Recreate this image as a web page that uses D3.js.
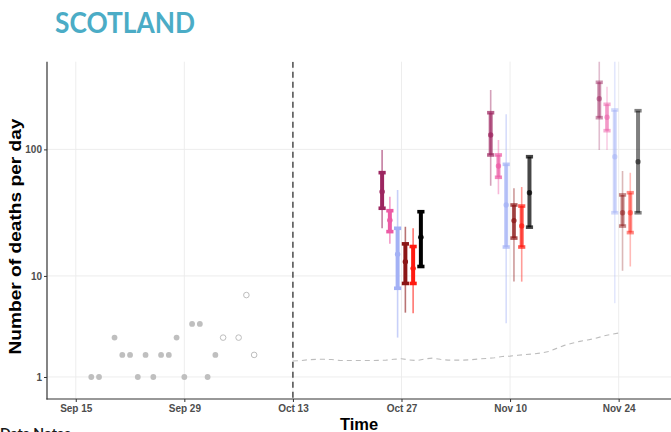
<!DOCTYPE html>
<html>
<head>
<meta charset="utf-8">
<script src="https://cdn.jsdelivr.net/npm/d3@7"></script>
<style>
  html, body { margin: 0; padding: 0; background: #fff; }
  svg { display: block; }
</style>
</head>
<body>
<svg id="chart" width="671" height="432"></svg>
<script>
// ---- Data -------------------------------------------------------------
// Reported daily deaths (filled points) and recent incomplete reports (open points)
const reportedDates  = ["2020-09-17","2020-09-18","2020-09-20","2020-09-21","2020-09-22","2020-09-23",
                        "2020-09-24","2020-09-25","2020-09-26","2020-09-27","2020-09-28","2020-09-29",
                        "2020-09-30","2020-10-01","2020-10-02","2020-10-03"];
const reportedDeaths = [1, 1, 3, 2, 2, 1, 2, 1, 2, 2, 3, 1, 4, 4, 1, 2];
const provisionalDates  = ["2020-10-04","2020-10-06","2020-10-07","2020-10-08"];
const provisionalDeaths = [3, 3, 7, 2];

// Forecast horizons and the six models' quantiles (rows = model, columns = horizon)
const forecastDates = ["2020-10-27","2020-11-10","2020-11-24"];
const lower95 = [
  [23.9, 51.8, 98.9],
  [18.0, 44.3, 98.9],
  [3.0, 4.05, 6.0],
  [5.0, 9.0, 11.0],
  [4.95, 9.0, 11.9],
  [null, null, null]
];
const lower50 = [
  [34.4, 90.4, 177.7],
  [22.5, 60.3, 140.4],
  [7.95, 17.0, 31.7],
  [8.7, 20.0, 24.9],
  [8.7, 17.0, 22.1],
  [11.9, 24.4, 31.7]
];
const medians = [
  [46.5, 129.8, 250.6],
  [27.7, 74.0, 178.9],
  [14.9, 36.5, 87.6],
  [13.0, 27.5, 31.7],
  [11.5, 24.9, 31.7],
  [20.3, 45.6, 80.0]
];
const upper50 = [
  [65.6, 194.4, 337.3],
  [32.9, 90.4, 226.4],
  [23.9, 76.3, 204.2],
  [18.0, 36.5, 43.8],
  [17.15, 35.8, 45.6],
  [32.3, 87.6, 201.6]
];
const upper95 = [
  [99, 293, 600],
  [42.4, 118.6, 311.4],
  [47.9, 188.9, 600],
  [24.6, 49.4, 67.6],
  [23.9, 50.5, 65.6],
  [null, null, null]
];

// Baseline curve from Oct 13 onwards (one value per day)
const baselineStart = "2020-10-13";
const baselineValues = [1.70, 1.72, 1.76, 1.78, 1.78, 1.77, 1.73, 1.72, 1.72, 1.72, 1.72, 1.73,
                        1.74, 1.78, 1.81, 1.75, 1.72, 1.80, 1.84, 1.78, 1.74, 1.74, 1.74, 1.76,
                        1.80, 1.82, 1.86, 1.92, 1.94, 1.98, 2.02, 2.05, 2.10, 2.18, 2.35, 2.52,
                        2.65, 2.76, 2.85, 2.95, 3.10, 3.22, 3.31];

const forecastOrigin = "2020-10-13";
const xTickDates = ["2020-09-15","2020-09-29","2020-10-13","2020-10-27","2020-11-10","2020-11-24"];
const yTickValues = [1, 10, 100];
const yTickLabels = ["1", "10", "100"];

// ---- Styling ----------------------------------------------------------
const modelColours = ["#9C2660", "#EC5AA5", "#A3B1F5", "#8B1515", "#FF1A10", "#000000"];
const horizonAlpha = [1.0, 0.72, 0.5];

// ---- Layout -----------------------------------------------------------
const panel = { left: 47, right: 671, top: 61.7, bottom: 399 };
const parse = d3.utcParse("%Y-%m-%d");
const DAY = 864e5;

const svg = d3.select("#chart");

const x = d3.scaleTime()
  .domain([new Date(Date.UTC(2020, 8, 11, 7)), new Date(Date.UTC(2020, 10, 30, 18))])
  .range([panel.left, panel.right]);

// pseudo-log transform: asinh(v / 2) / ln(10)
const tf = v => Math.asinh(v / 2) / Math.LN10;
const yLin = d3.scaleLinear().domain([tf(0.165), tf(490)]).range([panel.bottom, panel.top]);
const y = v => yLin(tf(v));

svg.append("defs").append("clipPath").attr("id", "panelClip")
  .append("rect")
  .attr("x", panel.left).attr("y", panel.top)
  .attr("width", panel.right - panel.left).attr("height", panel.bottom - panel.top);

// Grid
const grid = svg.append("g").attr("class", "grid");
grid.selectAll("line.h").data(yTickValues).join("line")
  .attr("x1", panel.left).attr("x2", panel.right)
  .attr("y1", d => y(d)).attr("y2", d => y(d))
  .attr("stroke", "#EBEBEB").attr("stroke-width", 0.9);
grid.selectAll("line.v").data(xTickDates.map(parse)).join("line")
  .attr("x1", d => x(d)).attr("x2", d => x(d))
  .attr("y1", panel.top).attr("y2", panel.bottom)
  .attr("stroke", "#EBEBEB").attr("stroke-width", 0.9);

const plot = svg.append("g").attr("clip-path", "url(#panelClip)");

// Forecast origin
plot.append("line")
  .attr("x1", x(parse(forecastOrigin))).attr("x2", x(parse(forecastOrigin)))
  .attr("y1", panel.top).attr("y2", panel.bottom)
  .attr("stroke", "#222").attr("stroke-width", 1.2)
  .attr("stroke-dasharray", "6,4");

// Baseline curve
const t0 = parse(baselineStart);
plot.append("path")
  .datum(baselineValues)
  .attr("fill", "none")
  .attr("stroke", "#BDBDBD")
  .attr("stroke-width", 1.1)
  .attr("stroke-dasharray", "5,4")
  .attr("d", d3.line()
    .x((d, i) => x(new Date(+t0 + i * DAY)))
    .y(d => y(d)));

// Observed points
plot.selectAll("circle.obs").data(reportedDates.map((d, i) => [parse(d), reportedDeaths[i]])).join("circle")
  .attr("cx", d => x(d[0])).attr("cy", d => y(d[1])).attr("r", 2.9)
  .attr("fill", "#BFBFBF");
plot.selectAll("circle.prov").data(provisionalDates.map((d, i) => [parse(d), provisionalDeaths[i]])).join("circle")
  .attr("cx", d => x(d[0])).attr("cy", d => y(d[1])).attr("r", 2.8)
  .attr("fill", "#fff").attr("stroke", "#BDBDBD").attr("stroke-width", 1);

// Forecast intervals, dodged one day apart around each horizon date
const nModels = medians.length;
forecastDates.forEach((fd, h) => {
  const centre = parse(fd);
  for (let m = 0; m < nModels; m++) {
    const day = new Date(+centre + (m - (nModels - 1) / 2) * DAY);
    const cx = x(day);
    const col = modelColours[m];
    const a = horizonAlpha[h];
    const g = plot.append("g");
    if (lower95[m][h] != null) {
      g.append("line")
        .attr("x1", cx).attr("x2", cx)
        .attr("y1", y(upper95[m][h])).attr("y2", y(lower95[m][h]))
        .attr("stroke", col).attr("stroke-opacity", a * 0.6).attr("stroke-width", 1.6);
    }
    g.append("line")
      .attr("x1", cx).attr("x2", cx)
      .attr("y1", y(upper50[m][h])).attr("y2", y(lower50[m][h]))
      .attr("stroke", col).attr("stroke-opacity", a).attr("stroke-width", 4);
    [upper50[m][h], lower50[m][h]].forEach(v => {
      g.append("rect")
        .attr("x", cx - 3.6).attr("y", y(v) - 1.8)
        .attr("width", 7.2).attr("height", 3.6)
        .attr("fill", col).attr("fill-opacity", a);
    });
    g.append("circle")
      .attr("cx", cx).attr("cy", y(medians[m][h])).attr("r", 2.7)
      .attr("fill", col).attr("fill-opacity", a);
  }
});

// Axes
const axisFont = g => g.selectAll("text")
  .attr("font-family", "'Liberation Sans', Arial, sans-serif")
  .attr("font-weight", "bold").attr("font-size", 10).attr("fill", "#4D4D4D");

const yAxis = svg.append("g")
  .attr("transform", `translate(${panel.left},0)`)
  .call(d3.axisLeft(yLin)
    .tickValues(yTickValues.map(tf))
    .tickFormat((d, i) => yTickLabels[i])
    .tickSize(3).tickPadding(2))
  .call(axisFont);
yAxis.select(".domain").remove();
yAxis.selectAll(".tick line").attr("stroke", "#333");

const xAxis = svg.append("g")
  .attr("transform", `translate(0,${panel.bottom})`)
  .call(d3.axisBottom(x)
    .tickValues(xTickDates.map(parse))
    .tickFormat(d3.utcFormat("%b %d"))
    .tickSize(3).tickPadding(3))
  .call(axisFont);
xAxis.select(".domain").remove();
xAxis.selectAll(".tick line").attr("stroke", "#333");

svg.append("line")
  .attr("x1", panel.left).attr("x2", panel.left)
  .attr("y1", panel.top).attr("y2", panel.bottom + 0.6)
  .attr("stroke", "#333").attr("stroke-width", 1.2);
svg.append("line")
  .attr("x1", panel.left - 0.6).attr("x2", panel.right)
  .attr("y1", panel.bottom).attr("y2", panel.bottom)
  .attr("stroke", "#333").attr("stroke-width", 1.2);

// Axis titles
svg.append("text")
  .attr("transform", "translate(21,236.5) rotate(-90)")
  .attr("text-anchor", "middle")
  .attr("font-family", "'Liberation Sans', Arial, sans-serif")
  .attr("font-weight", "bold").attr("font-size", 17).attr("fill", "#000")
  .attr("textLength", 236).attr("lengthAdjust", "spacingAndGlyphs")
  .text("Number of deaths per day");

svg.append("text")
  .attr("x", (panel.left + panel.right) / 2).attr("y", 430)
  .attr("text-anchor", "middle")
  .attr("font-family", "'Liberation Sans', Arial, sans-serif")
  .attr("font-weight", "bold").attr("font-size", 16.5).attr("fill", "#000")
  .text("Time");

// Heading
svg.append("text")
  .attr("x", 55).attr("y", 33.3)
  .attr("font-family", "Lato, 'Open Sans', sans-serif")
  .attr("font-weight", "bold").attr("font-size", 28.5).attr("fill", "#4BACC6")
  .attr("textLength", 140).attr("lengthAdjust", "spacingAndGlyphs")
  .text("SCOTLAND");

// Footnote heading running off the bottom edge
svg.append("text")
  .attr("x", 0).attr("y", 438)
  .attr("font-family", "Lato, 'Open Sans', sans-serif")
  .attr("font-weight", "bold").attr("font-size", 14).attr("fill", "#1A1A1A")
  .text("Data Notes");
</script>
</body>
</html>
